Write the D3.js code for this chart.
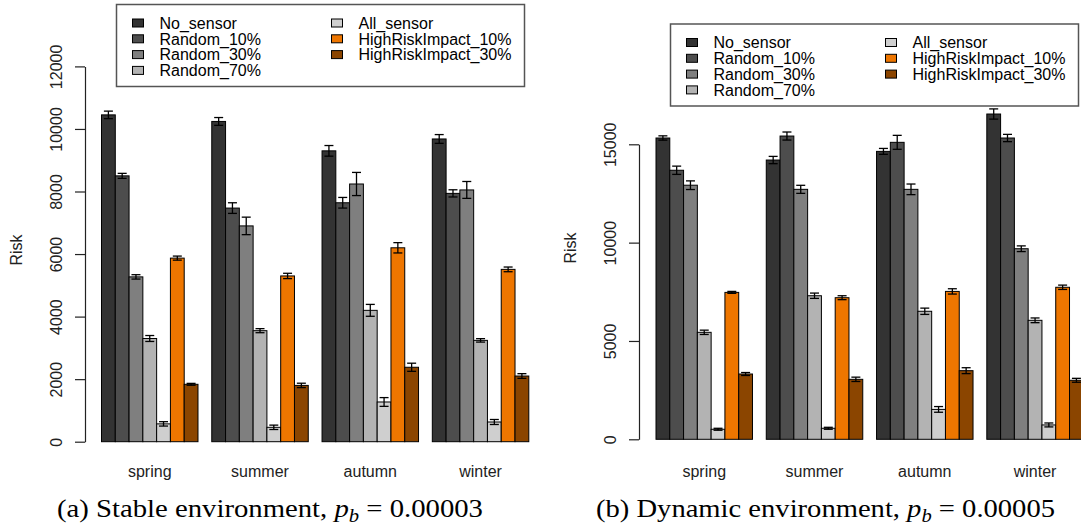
<!DOCTYPE html>
<html>
<head>
<meta charset="utf-8">
<script src="https://cdn.jsdelivr.net/npm/d3@7"></script>
<style>
  body { margin: 0; background: #fff; }
  svg { display: block; font-family: "Liberation Sans", Arial, sans-serif; }
  .axis text { font-size: 16px; fill: #222; }
  .axis path, .axis line { stroke: #222; stroke-width: 1.2; }
  .cat-label, .y-label { font-size: 16px; fill: #222; }
  .legend text { font-size: 16px; fill: #000; }
  .caption { font-family: "Liberation Serif", "Times New Roman", serif; font-size: 25px; fill: #000; }
</style>
</head>
<body>
<svg id="figure" width="1081" height="528"></svg>
<script>
// categories and series
const seasons = ['spring', 'summer', 'autumn', 'winter'];
const seriesNames = ['No_sensor', 'Random_10%', 'Random_30%', 'Random_70%',
                     'All_sensor', 'HighRiskImpact_10%', 'HighRiskImpact_30%'];
const seriesColors = ['#333333', '#4d4d4d', '#7f7f7f', '#b3b3b3', '#cfcfcf', '#ee7600', '#8b4500'];

// (a) stable environment, one row per season, one value per series
const stableMeans = [
  [10450, 8500, 5270, 3300, 570, 5870, 1835],
  [10240, 7470, 6900, 3550, 460, 5300, 1800],
  [9300, 7640, 8240, 4200, 1270, 6200, 2380],
  [9680, 7940, 8050, 3240, 630, 5510, 2100]
];
const stableErrors = [
  [120, 80, 70, 95, 70, 65, 30],
  [125, 170, 280, 65, 70, 85, 70],
  [170, 170, 370, 190, 140, 165, 130],
  [140, 115, 270, 55, 80, 75, 75]
];
const stableTicks = [0, 2000, 4000, 6000, 8000, 10000, 12000];

// (b) dynamic environment
const dynamicMeans = [
  [15320, 13680, 12920, 5440, 510, 7470, 3320],
  [14200, 15420, 12710, 7300, 560, 7200, 3050],
  [14640, 15100, 12710, 6510, 1520, 7520, 3490],
  [16540, 15320, 9690, 6050, 730, 7730, 3000]
];
const dynamicErrors = [
  [110, 210, 220, 110, 50, 50, 75],
  [185, 205, 205, 135, 50, 100, 110],
  [150, 355, 270, 160, 145, 135, 150],
  [260, 185, 145, 120, 100, 110, 100]
];
const dynamicTicks = [0, 5000, 10000, 15000];

class GroupedBarChart {

  /**
   * Class constructor with basic chart configuration
   */
  constructor(_config, _means, _errors) {
    this.config = {
      parentElement: _config.parentElement,
      xRange: _config.xRange,
      yRange: _config.yRange,
      yMax: _config.yMax,
      ticks: _config.ticks,
      axisX: _config.axisX,
      yLabelX: _config.yLabelX,
      yLabelY: _config.yLabelY,
      legend: _config.legend,
      caption: _config.caption
    }
    this.means = _means;
    this.errors = _errors;
    this.initVis();
  }

  /**
   * Scales, axes and static elements
   */
  initVis() {
    let vis = this;

    vis.svg = d3.select(vis.config.parentElement);
    vis.chart = vis.svg.append('g');

    vis.xScale = d3.scaleBand()
        .domain(seasons)
        .range(vis.config.xRange)
        .paddingInner(0.125)
        .paddingOuter(0);

    vis.xInner = d3.scaleBand()
        .domain(seriesNames)
        .range([0, vis.xScale.bandwidth()]);

    vis.yScale = d3.scaleLinear()
        .domain([0, vis.config.yMax])
        .range(vis.config.yRange);

    vis.colorScale = d3.scaleOrdinal()
        .domain(seriesNames)
        .range(seriesColors);

    vis.yAxis = d3.axisLeft(vis.yScale)
        .tickValues(vis.config.ticks)
        .tickSize(10)
        .tickSizeOuter(0)
        .tickFormat(d3.format('d'));

    vis.yAxisG = vis.chart.append('g')
        .attr('class', 'axis y-axis')
        .attr('transform', `translate(${vis.config.axisX},0)`);

    // Axis title
    vis.chart.append('text')
        .attr('class', 'y-label')
        .attr('transform', `translate(${vis.config.yLabelX},${vis.config.yLabelY}) rotate(-90)`)
        .attr('text-anchor', 'middle')
        .text('Risk');

    // season labels under the groups
    vis.chart.selectAll('.cat-label')
        .data(seasons)
      .join('text')
        .attr('class', 'cat-label')
        .attr('x', d => vis.xScale(d) + vis.xScale.bandwidth() / 2)
        .attr('y', 476.5)
        .attr('text-anchor', 'middle')
        .text(d => d);

    vis.renderLegend();
    vis.renderCaption();
    vis.updateVis();
  }

  /**
   * Flatten the rows into one record per bar
   */
  updateVis() {
    let vis = this;

    vis.barData = [];
    seasons.forEach((s, i) => {
      seriesNames.forEach((n, j) => {
        vis.barData.push({ season: s, series: n, value: vis.means[i][j], err: vis.errors[i][j] });
      });
    });

    vis.renderVis();
  }

  renderVis() {
    let vis = this;
    const xPos = d => vis.xScale(d.season) + vis.xInner(d.series);
    const w = vis.xInner.bandwidth();
    const cap = 4.5;

    vis.chart.selectAll('.bar')
        .data(vis.barData)
      .join('rect')
        .attr('class', 'bar')
        .attr('x', xPos)
        .attr('width', w)
        .attr('y', d => vis.yScale(d.value))
        .attr('height', d => vis.yScale(0) - vis.yScale(d.value))
        .attr('fill', d => vis.colorScale(d.series))
        .attr('stroke', '#000')
        .attr('stroke-width', 1);

    // error bars, R arrows(angle=90) style
    const errG = vis.chart.selectAll('.err')
        .data(vis.barData)
      .join('g')
        .attr('class', 'err')
        .attr('stroke', '#000')
        .attr('stroke-width', 1.3);

    errG.append('line')
        .attr('x1', d => xPos(d) + w / 2)
        .attr('x2', d => xPos(d) + w / 2)
        .attr('y1', d => vis.yScale(d.value - d.err))
        .attr('y2', d => vis.yScale(d.value + d.err));
    errG.append('line')
        .attr('x1', d => xPos(d) + w / 2 - cap)
        .attr('x2', d => xPos(d) + w / 2 + cap)
        .attr('y1', d => vis.yScale(d.value + d.err))
        .attr('y2', d => vis.yScale(d.value + d.err));
    errG.append('line')
        .attr('x1', d => xPos(d) + w / 2 - cap)
        .attr('x2', d => xPos(d) + w / 2 + cap)
        .attr('y1', d => vis.yScale(d.value - d.err))
        .attr('y2', d => vis.yScale(d.value - d.err));

    vis.yAxisG.call(vis.yAxis);
    vis.yAxisG.selectAll('.tick text')
        .attr('x', 0)
        .attr('y', -23.5)
        .attr('dy', 0)
        .attr('text-anchor', 'middle')
        .attr('transform', 'rotate(-90)');
  }

  renderLegend() {
    let vis = this;
    const lg = vis.config.legend;
    const g = vis.chart.append('g')
        .attr('class', 'legend')
        .attr('transform', `translate(${lg.x},${lg.y})`);

    g.append('rect')
        .attr('width', 408)
        .attr('height', 82)
        .attr('fill', '#fff')
        .attr('stroke', '#555')
        .attr('stroke-width', 1.5);

    const items = g.selectAll('.item')
        .data(seriesNames)
      .join('g')
        .attr('class', 'item')
        .attr('transform', (d, i) => {
          const col = i < 4 ? 0 : 1;
          const row = i < 4 ? i : i - 4;
          return `translate(${col * 199},${18.5 + row * 15.8})`;
        });

    items.append('rect')
        .attr('x', 16)
        .attr('y', -4)
        .attr('width', 11)
        .attr('height', 8)
        .attr('fill', d => vis.colorScale(d))
        .attr('stroke', '#000')
        .attr('stroke-width', 1);

    items.append('text')
        .attr('x', 43)
        .attr('y', 5.8)
        .text(d => d);
  }

  renderCaption() {
    let vis = this;
    const c = vis.config.caption;
    const t = vis.chart.append('text')
        .attr('class', 'caption')
        .attr('x', c.x)
        .attr('y', 516.5)
        .attr('textLength', c.width)
        .attr('lengthAdjust', 'spacingAndGlyphs');
    t.append('tspan').text(c.prefix + ' ');
    t.append('tspan').attr('font-style', 'italic').text('p');
    t.append('tspan').attr('font-style', 'italic').attr('font-size', 18).attr('dy', 5).text('b');
    t.append('tspan').attr('dy', -5).text(' = ' + c.value);
  }
}

const stableChart = new GroupedBarChart({
  parentElement: '#figure',
  xRange: [101.5, 528.8],
  yRange: [441.7, 66.4],
  yMax: 12000,
  ticks: stableTicks,
  axisX: 85,
  yLabelX: 21.7,
  yLabelY: 250,
  legend: { x: 116.5, y: 4.5 },
  caption: { x: 57, width: 426, prefix: '(a) Stable environment,', value: '0.00003' }
}, stableMeans, stableErrors);

const dynamicChart = new GroupedBarChart({
  parentElement: '#figure',
  xRange: [656, 1083.3],
  yRange: [439.3, 144.3],
  yMax: 15000,
  ticks: dynamicTicks,
  axisX: 639,
  yLabelX: 575.7,
  yLabelY: 248,
  legend: { x: 670.5, y: 24 },
  caption: { x: 596, width: 459, prefix: '(b) Dynamic environment,', value: '0.00005' }
}, dynamicMeans, dynamicErrors);
</script>
</body>
</html>
